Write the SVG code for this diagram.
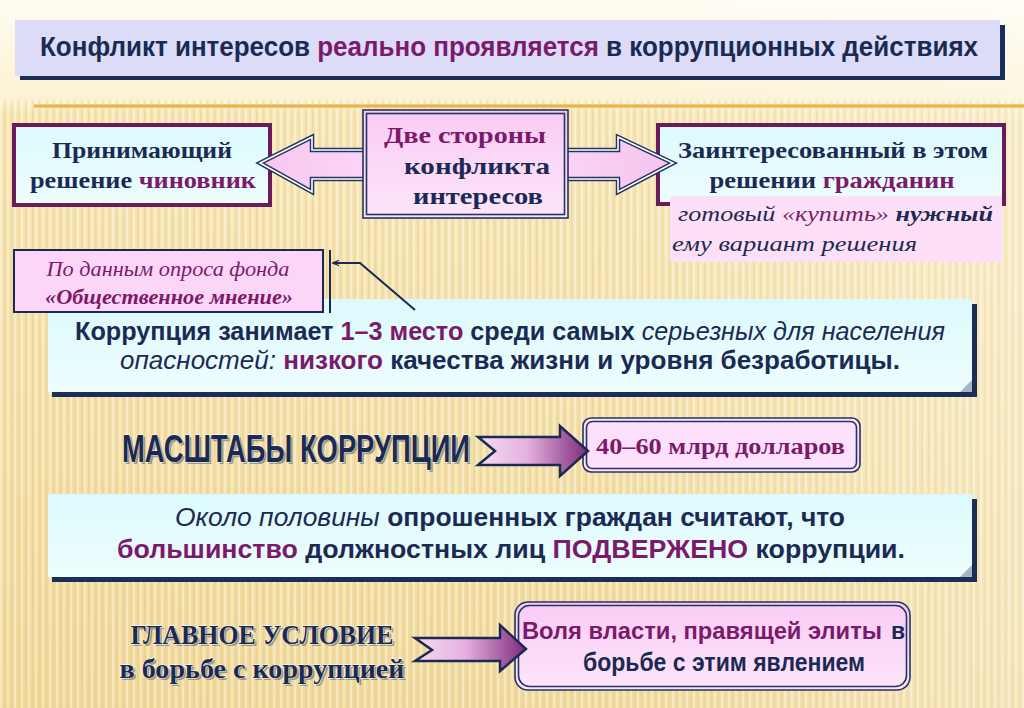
<svg xmlns="http://www.w3.org/2000/svg" width="1024" height="708" viewBox="0 0 1024 708">
<defs>
<linearGradient id="bg" x1="0" y1="0" x2="0" y2="1">
<stop offset="0" stop-color="#fffdf3"/>
<stop offset="0.14" stop-color="#fcf2d2"/>
<stop offset="0.16" stop-color="#f7e6b4"/>
<stop offset="1" stop-color="#f1d99a"/>
</linearGradient>
<linearGradient id="bgx" x1="0" y1="0" x2="1" y2="0">
<stop offset="0" stop-color="#ffffff" stop-opacity="0"/>
<stop offset="0.6" stop-color="#ffffff" stop-opacity="0.05"/>
<stop offset="1" stop-color="#ffffff" stop-opacity="0.3"/>
</linearGradient>
<pattern id="stripes" width="7" height="10" patternUnits="userSpaceOnUse">
<rect x="0" y="0" width="2" height="10" fill="#ffffff" opacity="0.35"/>
<rect x="4" y="0" width="1.5" height="10" fill="#d9b56a" opacity="0.25"/>
</pattern>
<linearGradient id="gold" x1="0" y1="0" x2="0" y2="1">
<stop offset="0" stop-color="#f6d78a"/>
<stop offset="0.5" stop-color="#e2a93c"/>
<stop offset="1" stop-color="#f6d78a"/>
</linearGradient>
<linearGradient id="cyan" x1="0" y1="0" x2="0" y2="1">
<stop offset="0" stop-color="#dcfafd"/>
<stop offset="1" stop-color="#eefdfe"/>
</linearGradient>
<linearGradient id="pinkbox" x1="0" y1="0" x2="0" y2="1">
<stop offset="0" stop-color="#f9cbf4"/>
<stop offset="1" stop-color="#fde6fb"/>
</linearGradient>
<linearGradient id="dblarrow" x1="0" y1="0" x2="1" y2="0">
<stop offset="0" stop-color="#f8c6f1"/>
<stop offset="0.5" stop-color="#fde4fa"/>
<stop offset="1" stop-color="#f6c2ee"/>
</linearGradient>
<linearGradient id="purparrow" x1="0" y1="0" x2="1" y2="0">
<stop offset="0" stop-color="#f6dcf4"/>
<stop offset="0.45" stop-color="#e6b0e0"/>
<stop offset="1" stop-color="#7c2a78"/>
</linearGradient>
<marker id="ah" viewBox="0 0 10 10" refX="9" refY="5" markerWidth="7" markerHeight="7" orient="auto" markerUnits="userSpaceOnUse">
<path d="M0,1 L10,5 L0,9" fill="none" stroke="#1b2a52" stroke-width="1.6"/>
</marker>
</defs>
<style>
.navy{fill:#1b2a52}
.purp{fill:#7b1a6b}
.ser{font-family:"Liberation Serif","Times New Roman",serif;font-weight:bold}
.cond{font-family:"Liberation Sans Narrow","Liberation Sans",Arial,sans-serif;font-weight:bold}
.it{font-style:italic}
.nb{font-weight:normal}
.big{font-family:"Liberation Sans Narrow","Liberation Sans",Arial,sans-serif;font-weight:bold;fill:#1b2a52;stroke:#ffffff;stroke-width:0.8;paint-order:stroke}
.bigs{font-family:"Liberation Serif","Times New Roman",serif;font-weight:bold;fill:#1b2a52;stroke:#ffffff;stroke-width:0.8;paint-order:stroke}
.shadowtxt{fill:#6b6b6b;opacity:0.6}
.pbox{stroke:#6a1b5c;stroke-width:4;fill:url(#cyan)}
.shad{fill:#1b2e58}
.dbl1{fill:none;stroke:#24355f;stroke-width:1.6}
</style>

<!-- background -->
<rect width="1024" height="708" fill="url(#bg)"/>
<rect y="100" width="1024" height="608" fill="url(#stripes)"/>
<rect width="1024" height="708" fill="url(#bgx)"/>
<rect x="34" y="104" width="990" height="4" fill="url(#gold)"/>

<!-- title -->
<g id="title">
<rect x="20" y="25" width="985" height="55" class="shad"/>
<rect x="15" y="20" width="985" height="56" fill="#dcdcf8"/>
<text x="40" y="56" font-size="27" class="cond navy" textLength="938" lengthAdjust="spacingAndGlyphs">Конфликт интересов <tspan class="purp">реально проявляется</tspan> в коррупционных действиях</text>
</g>

<!-- left box -->
<g id="official">
<rect x="14" y="125" width="256" height="80" class="pbox"/>
<text x="142" y="158" font-size="24" class="ser navy" text-anchor="middle" textLength="180" lengthAdjust="spacingAndGlyphs">Принимающий</text>
<text x="143" y="188" font-size="24" class="ser navy" text-anchor="middle" textLength="226" lengthAdjust="spacingAndGlyphs">решение <tspan class="purp">чиновник</tspan></text>
</g>

<!-- right box -->
<g id="citizen">
<rect x="658" y="125" width="346" height="79" class="pbox"/>
<rect x="670" y="196" width="332" height="66" fill="#fde0f8"/>
<text x="833" y="158" font-size="24" class="ser navy" text-anchor="middle" textLength="310" lengthAdjust="spacingAndGlyphs">Заинтересованный в этом</text>
<text x="832" y="188" font-size="24" class="ser navy" text-anchor="middle" textLength="245" lengthAdjust="spacingAndGlyphs">решении <tspan class="purp">гражданин</tspan></text>
<text x="678" y="221" font-size="22" class="ser it navy" textLength="315" lengthAdjust="spacingAndGlyphs"><tspan class="nb">готовый </tspan><tspan class="nb purp">«купить»</tspan> нужный</text>
<text x="672" y="251" font-size="22" class="ser it nb navy" textLength="245" lengthAdjust="spacingAndGlyphs">ему вариант решения</text>
</g>

<!-- corruption box -->
<g id="corruption-rank">
<rect x="52" y="304" width="925" height="93" class="shad"/>
<rect x="48" y="299" width="924" height="93" fill="url(#cyan)"/>
<path d="M972,380 L960,392 L972,392 Z" fill="#a8b4c4"/>
<text x="510" y="340" font-size="25" class="cond navy" text-anchor="middle" textLength="870" lengthAdjust="spacingAndGlyphs">Коррупция занимает <tspan class="purp">1–3 место</tspan> среди самых <tspan class="it nb">серьезных для населения</tspan></text>
<text x="510" y="369" font-size="25" class="cond navy" text-anchor="middle" textLength="780" lengthAdjust="spacingAndGlyphs"><tspan class="it nb">опасностей:</tspan> <tspan class="purp">низкого</tspan> качества жизни и уровня безработицы.</text>
</g>

<!-- source box -->
<g id="source">
<rect x="14" y="250" width="309" height="62" fill="#fcd6f8" stroke="#1b2a52" stroke-width="2"/>
<text x="168" y="276" font-size="20" class="ser it nb purp" text-anchor="middle" textLength="243" lengthAdjust="spacingAndGlyphs">По данным опроса фонда</text>
<text x="169" y="304" font-size="20" class="ser it purp" text-anchor="middle" textLength="248" lengthAdjust="spacingAndGlyphs">«Общественное мнение»</text>
</g>

<!-- scale -->
<g id="scale-label">
<text x="124" y="464" font-size="38" class="shadowtxt cond" textLength="348" lengthAdjust="spacingAndGlyphs">МАСШТАБЫ КОРРУПЦИИ</text>
<text x="122" y="462" font-size="38" class="big" textLength="348" lengthAdjust="spacingAndGlyphs">МАСШТАБЫ КОРРУПЦИИ</text>
</g>
<g id="scale-value">
<rect x="583" y="418" width="277" height="54" rx="8" fill="#fde0fc" stroke="#24355f" stroke-width="1.6"/>
<rect x="586.5" y="421.5" width="270" height="47" rx="6" fill="none" stroke="#24355f" stroke-width="1.6"/>
<text x="596" y="454" font-size="24" class="ser purp" textLength="249" lengthAdjust="spacingAndGlyphs">40–60 млрд долларов</text>
</g>

<!-- opinion box -->
<g id="opinion">
<rect x="52" y="499" width="925" height="83" class="shad"/>
<rect x="48" y="494" width="924" height="83" fill="url(#cyan)"/>
<path d="M972,565 L960,577 L972,577 Z" fill="#a8b4c4"/>
<text x="510" y="526" font-size="25" class="cond navy" text-anchor="middle" textLength="670" lengthAdjust="spacingAndGlyphs"><tspan class="it nb">Около половины</tspan> опрошенных граждан считают, что</text>
<text x="511" y="558" font-size="25" class="cond navy" text-anchor="middle" textLength="788" lengthAdjust="spacingAndGlyphs"><tspan class="purp">большинство</tspan> должностных лиц <tspan class="purp">ПОДВЕРЖЕНО</tspan> коррупции.</text>
</g>

<!-- main condition -->
<g id="condition-label">
<text x="264" y="646" font-size="28" class="shadowtxt ser" text-anchor="middle" textLength="263" lengthAdjust="spacingAndGlyphs">ГЛАВНОЕ УСЛОВИЕ</text>
<text x="262" y="644" font-size="28" class="bigs" text-anchor="middle" textLength="263" lengthAdjust="spacingAndGlyphs">ГЛАВНОЕ УСЛОВИЕ</text>
<text x="264" y="680" font-size="28" class="shadowtxt ser" text-anchor="middle" textLength="285" lengthAdjust="spacingAndGlyphs">в борьбе с коррупцией</text>
<text x="262" y="678" font-size="28" class="bigs" text-anchor="middle" textLength="285" lengthAdjust="spacingAndGlyphs">в борьбе с коррупцией</text>
</g>
<g id="condition-value">
<rect x="515" y="602" width="395" height="88" rx="13" fill="url(#pinkbox)" stroke="#24355f" stroke-width="1.6"/>
<rect x="518.5" y="605.5" width="388" height="81" rx="11" fill="none" stroke="#24355f" stroke-width="1.6"/>
<text x="522" y="639" font-size="23" class="cond purp" textLength="360" lengthAdjust="spacingAndGlyphs">Воля власти, правящей элиты</text>
<text x="891" y="639" font-size="23" class="cond navy">в</text>
<text x="583" y="671" font-size="25" class="cond navy" textLength="282" lengthAdjust="spacingAndGlyphs">борьбе с этим явлением</text>
</g>

<!-- connectors -->
<g id="connectors">
<g id="double-arrow">
<path d="M260,163 L312,137 L312,150 L618,150 L618,137 L673,163 L618,192 L618,179 L312,179 L312,192 Z" fill="url(#dblarrow)" stroke="#24355f" stroke-width="4.5" stroke-linejoin="miter"/>
<path d="M260,163 L312,137 L312,150 L618,150 L618,137 L673,163 L618,192 L618,179 L312,179 L312,192 Z" fill="none" stroke="#ffffff" stroke-width="1.6" stroke-linejoin="miter"/>
</g>
<line x1="330" y1="250" x2="330" y2="313" stroke="#1b2a52" stroke-width="2"/>
<polyline points="415,310 360,263 333,263" fill="none" stroke="#1b2a52" stroke-width="2" marker-end="url(#ah)"/>
<path d="M478,437 L560,437 L560,426 L588,451 L560,476 L560,465 L478,465 L495,451 Z" fill="url(#purparrow)" stroke="#1b2a52" stroke-width="2.5" stroke-linejoin="miter"/>
<path d="M415,638 L500,638 L500,625 L526,649 L500,671 L500,661 L415,661 L432,650 Z" fill="url(#purparrow)" stroke="#1b2a52" stroke-width="2.5" stroke-linejoin="miter"/>
</g>

<!-- center box -->
<g id="two-sides">
<rect x="363" y="110" width="205" height="108" fill="url(#pinkbox)"/>
<rect x="363" y="110" width="205" height="108" class="dbl1"/>
<rect x="366.5" y="113.5" width="198" height="101" class="dbl1"/>
<text x="465" y="143" font-size="24" class="ser purp" text-anchor="middle" textLength="162" lengthAdjust="spacingAndGlyphs">Две стороны</text>
<text x="477" y="174" font-size="24" class="ser navy" text-anchor="middle" textLength="146" lengthAdjust="spacingAndGlyphs">конфликта</text>
<text x="478" y="204" font-size="24" class="ser navy" text-anchor="middle" textLength="130" lengthAdjust="spacingAndGlyphs">интересов</text>
</g>
</svg>
